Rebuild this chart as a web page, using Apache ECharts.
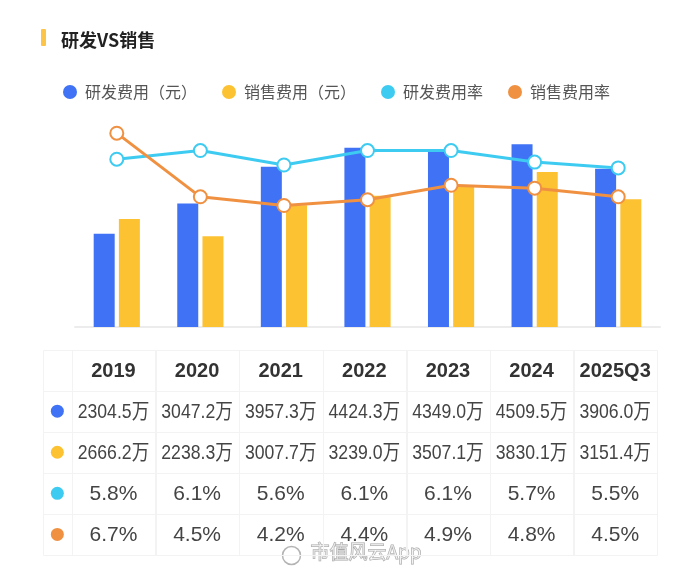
<!DOCTYPE html>
<html>
<head>
<meta charset="utf-8">
<script src="https://cdn.jsdelivr.net/npm/echarts@6/dist/echarts.min.js"></script>
<style>html,body{margin:0;padding:0;background:#fff;}#c{width:700px;height:570px;}</style>
</head>
<body>
<div id="c"></div>
<script>
var categories = ['2019', '2020', '2021', '2022', '2023', '2024', '2025Q3'];
var rdExpense = [2304.5, 3047.2, 3957.3, 4424.3, 4349.0, 4509.5, 3906.0];
var salesExpense = [2666.2, 2238.3, 3007.7, 3239.0, 3507.1, 3830.1, 3151.4];
var rdRate = [5.8, 6.1, 5.6, 6.1, 6.1, 5.7, 5.5];
var salesRate = [6.7, 4.5, 4.2, 4.4, 4.9, 4.8, 4.5];
var seriesNames = ['研发费用（元）', '销售费用（元）', '研发费用率', '销售费用率'];
var colors = ['#3f72f5', '#fcc232', '#3ecbf1', '#f09142'];

var FONT = '"Liberation Sans", "Noto Sans CJK SC", sans-serif';

// table cells built from arrays
var rows = [
  {vals: rdExpense, fmt: function (v) { return v.toFixed(1) + '万'; }, wan: true},
  {vals: salesExpense, fmt: function (v) { return v.toFixed(1) + '万'; }, wan: true},
  {vals: rdRate, fmt: function (v) { return v.toFixed(1) + '%'; }, wan: false},
  {vals: salesRate, fmt: function (v) { return v.toFixed(1) + '%'; }, wan: false}
];
var ICON_W = 0.343;
var cells = [];
cells.push([-1, 0, '', 'blank', -1]);
categories.forEach(function (c, i) { cells.push([i, 0, c, 'head', -1]); });
rows.forEach(function (r, ri) {
  cells.push([-1, ri + 1, '', 'icon', ri]);
  r.vals.forEach(function (v, i) { cells.push([i, ri + 1, r.fmt(v), r.wan ? 'wan' : 'pct', ri]); });
});

function renderCell(params, api) {
  var col = api.value(0), row = api.value(1);
  var x0 = col < 0 ? -ICON_W : col;
  var x1 = col < 0 ? 0 : col + 1;
  var p0 = api.coord([x0, row]);
  var p1 = api.coord([x1, row + 1]);
  var item = cells[params.dataIndex];
  var kind = item[3];
  var cx = (p0[0] + p1[0]) / 2, cy = (p0[1] + p1[1]) / 2;
  var children = [{
    type: 'rect',
    shape: {x: Math.round(p0[0]) + 0.5, y: Math.round(p0[1]) + 0.5, width: Math.round(p1[0] - p0[0]), height: Math.round(p1[1] - p0[1])},
    style: {fill: 'none', stroke: '#f3f3f3', lineWidth: 1}
  }];
  if (kind === 'icon') {
    children.push({type: 'circle', shape: {cx: cx, cy: cy, r: 6.5}, style: {fill: colors[item[4]]}});
  } else if (kind !== 'blank') {
    var st = {
      text: item[2], fontFamily: FONT, align: 'center', verticalAlign: 'middle',
      textAlign: 'center', textVerticalAlign: 'middle'
    };
    var sx = 1;
    if (kind === 'head') { st.fontSize = 20; st.fontWeight = 'bold'; st.fill = '#333'; }
    else if (kind === 'wan') { st.fontSize = 21; st.fill = '#444'; sx = 0.84; }
    else { st.fontSize = 21; st.fill = '#444'; }
    children.push({type: 'text', x: cx, y: cy + 1, scaleX: sx, style: st});
  }
  return {type: 'group', children: children};
}

var chart = echarts.init(document.getElementById('c'), null, {renderer: 'canvas'});
chart.setOption({
  backgroundColor: '#fff',
  animation: false,
  title: {
    text: '研发VS销售', left: 56, top: 26,
    textStyle: {fontSize: 18, fontWeight: 'bold', color: '#222', fontFamily: '"Noto Sans CJK SC", sans-serif'}
  },
  graphic: [
    {type: 'rect', left: 41, top: 29, shape: {width: 5, height: 17, r: 1}, style: {fill: '#fcc54a'}},
    {type: 'circle', left: 280, top: 544, shape: {r: 9}, style: {fill: 'none', stroke: 'rgba(130,130,130,0.6)', lineWidth: 1.5}},
    {type: 'text', left: 310, top: 542, style: {text: '市值风云App', fontSize: 19, fontFamily: '"Noto Sans CJK SC", sans-serif', fill: 'rgba(255,255,255,0.5)', stroke: 'rgba(130,130,130,0.7)', lineWidth: 1}}
  ],
  legend: {
    left: 58, top: 79, itemWidth: 14, itemHeight: 14, itemGap: 25, icon: 'circle',
    textStyle: {fontSize: 16, color: '#555', fontFamily: '"Noto Sans CJK SC", sans-serif', padding: [0, 0, 0, 3]},
    data: seriesNames.map(function (n, i) { return {name: n, icon: 'circle', itemStyle: {color: colors[i], borderWidth: 0}}; })
  },
  grid: [
    {left: 75, right: 40, top: 124.5, height: 202.5},
    {left: 43, right: 43, top: 349.5, height: 205.5}
  ],
  xAxis: [
    {type: 'category', gridIndex: 0, data: categories,
      axisLine: {show: true, lineStyle: {color: '#ececec', width: 2}},
      axisTick: {show: false}, axisLabel: {show: false}, splitLine: {show: false}},
    {type: 'value', gridIndex: 1, min: -ICON_W, max: 7, show: false}
  ],
  yAxis: [
    {type: 'value', gridIndex: 0, min: 0, max: 5000, show: false},
    {type: 'value', gridIndex: 0, min: 0, max: 7, show: false},
    {type: 'value', gridIndex: 1, min: 0, max: 5, inverse: true, show: false}
  ],
  series: [
    {name: seriesNames[0], type: 'bar', xAxisIndex: 0, yAxisIndex: 0, data: rdExpense, barWidth: 21, barGap: '20%', itemStyle: {color: colors[0]}},
    {name: seriesNames[1], type: 'bar', xAxisIndex: 0, yAxisIndex: 0, data: salesExpense, barWidth: 21, barGap: '20%', itemStyle: {color: colors[1]}},
    {name: seriesNames[2], type: 'line', xAxisIndex: 0, yAxisIndex: 1, data: rdRate, symbol: 'circle', symbolSize: 13,
      lineStyle: {color: colors[2], width: 3}, itemStyle: {color: '#fff', borderColor: colors[2], borderWidth: 2}},
    {name: seriesNames[3], type: 'line', xAxisIndex: 0, yAxisIndex: 1, data: salesRate, symbol: 'circle', symbolSize: 13,
      lineStyle: {color: colors[3], width: 3}, itemStyle: {color: '#fff', borderColor: colors[3], borderWidth: 2}},
    {type: 'custom', xAxisIndex: 1, yAxisIndex: 2, data: cells, renderItem: renderCell, silent: true}
  ]
});
</script>
</body>
</html>
